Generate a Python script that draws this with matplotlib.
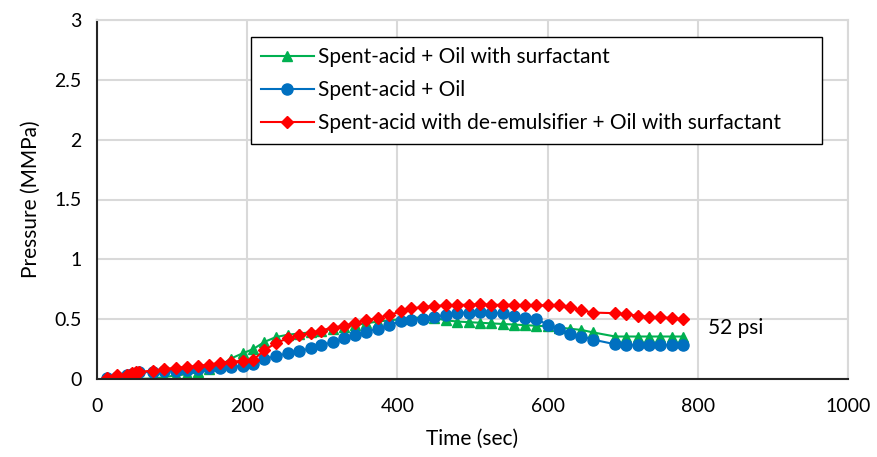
import matplotlib
matplotlib.use("Agg")
import matplotlib.pyplot as plt

plt.rcParams['font.family'] = ['Lato', 'DejaVu Sans']

time_s = [13, 27, 40, 47, 52, 56, 74, 89, 105, 120, 135, 149, 164, 178, 194, 208,
          223, 238, 254, 269, 285, 298, 314, 329, 343, 358, 374, 389, 405, 418, 434,
          449, 465, 480, 495, 510, 525, 540, 555, 570, 585, 600, 615, 630, 645, 660,
          690, 705, 720, 735, 750, 765, 780]

surf = [0.0, 0.0, 0.0, 0.0, 0.0, 0.0, 0.005, 0.015, 0.03, 0.04, 0.06, 0.085, 0.11, 0.17,
        0.215, 0.25, 0.31, 0.35, 0.37, 0.38, 0.39, 0.40, 0.42, 0.435, 0.45, 0.465, 0.48,
        0.49, 0.50, 0.51, 0.515, 0.51, 0.49, 0.48, 0.475, 0.47, 0.465, 0.46, 0.455, 0.45,
        0.445, 0.44, 0.43, 0.42, 0.41, 0.39, 0.355, 0.355, 0.355, 0.355, 0.355, 0.355, 0.355]

oil = [0.005, 0.02, 0.03, 0.045, 0.05, 0.055, 0.06, 0.065, 0.07, 0.075, 0.085, 0.09, 0.09,
       0.10, 0.11, 0.125, 0.17, 0.19, 0.215, 0.235, 0.255, 0.28, 0.31, 0.34, 0.37, 0.395,
       0.42, 0.45, 0.485, 0.495, 0.505, 0.52, 0.535, 0.555, 0.555, 0.56, 0.555, 0.55, 0.53,
       0.51, 0.50, 0.455, 0.42, 0.38, 0.355, 0.33, 0.29, 0.285, 0.285, 0.285, 0.285, 0.285, 0.285]

demul = [0.01, 0.03, 0.035, 0.05, 0.055, 0.06, 0.07, 0.08, 0.095, 0.10, 0.11, 0.12, 0.135,
         0.145, 0.15, 0.16, 0.24, 0.30, 0.34, 0.365, 0.385, 0.405, 0.43, 0.445, 0.47, 0.49,
         0.51, 0.535, 0.565, 0.59, 0.60, 0.61, 0.615, 0.62, 0.62, 0.625, 0.62, 0.62, 0.62,
         0.615, 0.615, 0.615, 0.615, 0.60, 0.575, 0.555, 0.55, 0.54, 0.53, 0.52, 0.515, 0.51, 0.50]

labels = ["Spent-acid + Oil with surfactant", "Spent-acid + Oil",
          "Spent-acid with de-emulsifier + Oil with surfactant"]
annotation = "52 psi"

fig = plt.figure(figsize=(8.77, 4.57), dpi=100)
ax = fig.add_axes([97/877, 1-379/457, (848-97)/877, (379-20)/457])

ax.plot(time_s, surf, color='#00B050', marker='^', markersize=7, linewidth=1.5, label=labels[0])
ax.plot(time_s, oil, color='#0070C0', marker='o', markersize=8, linewidth=1.5, label=labels[1])
ax.plot(time_s, demul, color='#FF0000', marker='D', markersize=6, linewidth=1.5, label=labels[2])

ax.set_xlim(0, 1000)
ax.set_ylim(0, 3)
ax.set_xticks([0, 200, 400, 600, 800, 1000])
ax.set_yticks([0, 0.5, 1, 1.5, 2, 2.5, 3])
ax.set_yticklabels(['0', '0.5', '1', '1.5', '2', '2.5', '3'])
ax.grid(True, color='#D9D9D9', linewidth=1.5)
ax.set_axisbelow(True)
for s in ['top', 'right']:
    ax.spines[s].set_color('#D9D9D9')
    ax.spines[s].set_linewidth(1.5)
for s in ['left', 'bottom']:
    ax.spines[s].set_color('#262626')
    ax.spines[s].set_linewidth(1.5)
ax.tick_params(length=0, labelsize=14, colors='#000000')
ax.tick_params(axis='x', pad=14)
ax.tick_params(axis='y', pad=11)
ax.set_xlabel('Time (sec)', fontsize=15, labelpad=10)
ax.set_ylabel('Pressure (MMPa)', fontsize=15, labelpad=10)

ax.text(813, 0.43, annotation, fontsize=15, ha='left', va='center')

leg = ax.legend(loc='upper left', bbox_to_anchor=(251/877, 1-140/457, 571/877, 103/457),
                bbox_transform=fig.transFigure, mode='expand',
                fontsize=15, frameon=True, fancybox=False, edgecolor='black', framealpha=1,
                handlelength=2.5, handletextpad=0.2, borderpad=0.5, labelspacing=0.62,
                borderaxespad=0)
leg.get_frame().set_linewidth(1.0)

fig.savefig('out.png', dpi=100)
